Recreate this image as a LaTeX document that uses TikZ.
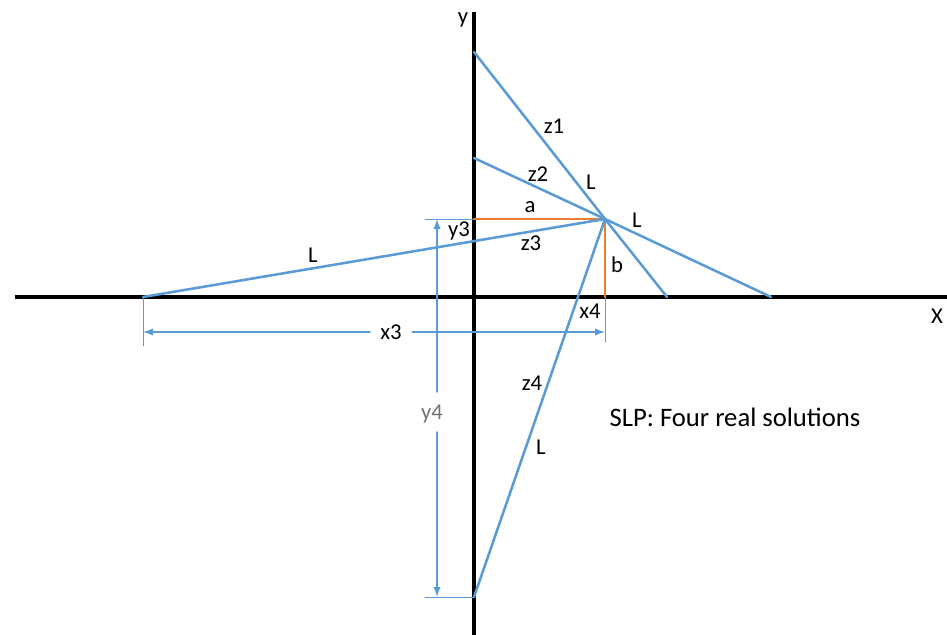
\documentclass[tikz,border=0pt]{standalone}
\usepackage{fontspec}
\setmainfont{Carlito}
\usetikzlibrary{arrows.meta}

\definecolor{linkblue}{HTML}{5B9BD5}
\definecolor{legorange}{HTML}{ED7D31}

\begin{document}
\begin{tikzpicture}[
  x=0.75pt,
  y=-0.75pt,
  line cap=round,
  line join=round,
  font=\fontsize{17}{20}\selectfont,
  axis/.style={draw=black, line width=2.3pt, line cap=butt},
  link/.style={draw=linkblue, line width=1.9pt},
  leg/.style={draw=legorange, line width=1.9pt},
  dim/.style={-{Latex[length=7.5pt,width=5.5pt]}, draw=linkblue, line width=1pt},
  guide/.style={draw=linkblue, line width=0.7pt},
  lbl/.style={inner sep=1pt, text=black},
  dimlabel/.style={inner sep=1pt, text=black!55},
  title/.style={inner sep=1pt, font=\fontsize{20}{24}\selectfont}
]
\useasboundingbox (0,0) rectangle (947,635);

% Key points of the linkage.
\coordinate (O) at (474,297);
\coordinate (P) at (605,219);
\coordinate (z1top) at (474,52);
\coordinate (z1end) at (667,297);
\coordinate (z2top) at (474,158);
\coordinate (z2end) at (771,297);
\coordinate (z3end) at (143,297);
\coordinate (z4bot) at (474,597);
\coordinate (Pa) at (474,219);
\coordinate (Pb) at (605,297);

% Axes.
\draw[axis] (474,12) -- (474,635);
\draw[axis] (15,297) -- (947,297);
\node[lbl] (ylabel) at (463,20) {y};
\node[lbl] (xlabel) at (937,316) {X};

% Offsets a and b.
\draw[leg] (Pa) -- (P);
\draw[leg] (P) -- (Pb);

% The four links through P.
\draw[link] (z1top) -- (P) -- (z1end);
\draw[link] (z2top) -- (P) -- (z2end);
\draw[link] (z3end) -- (P);
\draw[link] (z4bot) -- (P);

% Dimensions.
\draw[guide] (425,219) -- (Pa);
\draw[guide] (425,597) -- (z4bot);
\draw[dim] (437,392) -- (437,219);
\draw[dim] (437,432) -- (437,597);
\node[dimlabel] (y4) at (432,414) {y4};

\draw[guide] (z3end) -- (143,346);
\draw[guide] (Pb) -- (605,342);
\draw[dim] (370,332) -- (143,332);
\draw[dim] (412,332) -- (605,332);
\node[lbl] (x3) at (391,332) {x3};

% Labels.
\node[lbl] (z1) at (554,126) {z1};
\node[lbl] (z2) at (538,174) {z2};
\node[lbl] (L1) at (591,182) {L};
\node[lbl] (L2) at (637,220) {L};
\node[lbl] (a) at (530,207) {a};
\node[lbl] (y3) at (459,231) {y3};
\node[lbl] (z3) at (531,243) {z3};
\node[lbl] (b) at (617,265) {b};
\node[lbl] (L3) at (313,255) {L};
\node[lbl] (x4) at (590,311) {x4};
\node[lbl] (z4) at (532,383) {z4};
\node[lbl] (L4) at (541,447) {L};
\node[title] (caption) at (735,417) {SLP: Four real solutions};

\end{tikzpicture}
\end{document}
